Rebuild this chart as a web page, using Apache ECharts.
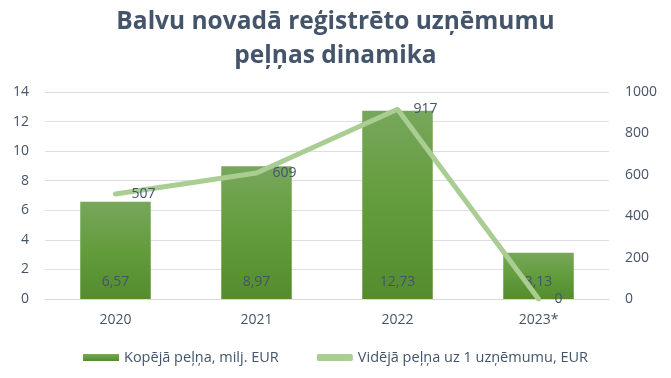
<!DOCTYPE html>
<html><head><meta charset="utf-8">
<script src="https://cdn.jsdelivr.net/npm/echarts@6/dist/echarts.min.js"></script>
<style>html,body{margin:0;padding:0;background:#fff}#c{width:671px;height:378px}</style>
</head><body><div id="c"></div>
<script>
const categories = ['2020', '2021', '2022', '2023*'];
const totalProfit = [6.57, 8.97, 12.73, 3.13];
const avgProfit = [507, 609, 917, 0];
const leftTicks = [0, 14, 2];
const rightTicks = [0, 1000, 200];
const seriesNames = ['Kopējā peļņa, milj. EUR', 'Vidējā peļņa uz 1 uzņēmumu, EUR'];
const titleText = 'Balvu novadā reģistrēto uzņēmumu\npeļņas dinamika';

const txt = '#44546A';
const font = 'Open Sans';
const lineColor = '#A9CD92';
const chart = echarts.init(document.getElementById('c'));
chart.setOption({
  animation: false,
  title: {
    text: titleText, left: 'center', top: 0,
    textStyle: { fontFamily: font, fontWeight: 'bold', fontSize: 24.5, color: txt, lineHeight: 34 }
  },
  grid: { left: 45, right: 62, top: 92, bottom: 79 },
  legend: {
    bottom: 8, left: 'center', itemGap: 38, itemWidth: 36, itemHeight: 7,
    textStyle: { fontFamily: font, fontSize: 14.5, color: txt },
    data: [
      { name: seriesNames[0], icon: 'rect' },
      { name: seriesNames[1], icon: 'roundRect', itemStyle: { color: lineColor, opacity: 1 } }
    ]
  },
  xAxis: {
    type: 'category', data: categories,
    axisLine: { lineStyle: { color: '#D9D9D9' } }, axisTick: { show: false },
    axisLabel: { fontFamily: font, fontSize: 14, color: txt, margin: 14 }
  },
  yAxis: [
    { type: 'value', min: leftTicks[0], max: leftTicks[1], interval: leftTicks[2],
      axisLabel: { fontFamily: font, fontSize: 14, color: txt, margin: 16 },
      splitLine: { lineStyle: { color: '#DCE0E6' } }, axisLine: { show: false }, axisTick: { show: false } },
    { type: 'value', min: rightTicks[0], max: rightTicks[1], interval: rightTicks[2],
      axisLabel: { fontFamily: font, fontSize: 14, color: txt, margin: 16, formatter: v => String(v) },
      splitLine: { show: false }, axisLine: { show: false }, axisTick: { show: false } }
  ],
  series: [
    { name: seriesNames[0], type: 'bar', data: totalProfit, barWidth: '50%', yAxisIndex: 0,
      itemStyle: { color: new echarts.graphic.LinearGradient(0, 0, 0, 1, [
        { offset: 0, color: '#77A75B' }, { offset: 0.5, color: '#629C3B' }, { offset: 1, color: '#548C2E' }]) },
      label: { show: true, position: 'insideBottom', distance: 10, fontFamily: font, fontSize: 14, color: txt,
        formatter: p => String(p.value).replace('.', ',') } },
    { name: seriesNames[1], type: 'line', data: avgProfit, yAxisIndex: 1,
      symbol: 'circle', symbolSize: 4, showSymbol: true, showAllSymbol: true,
      lineStyle: { color: lineColor, width: 5, cap: 'round' }, itemStyle: { color: lineColor, borderWidth: 0 },
      labelLayout: { hideOverlap: false },
      label: { show: true, position: 'right', distance: 14, offset: [0, 3], fontFamily: font, fontSize: 14, color: txt } }
  ]
});
</script></body></html>
